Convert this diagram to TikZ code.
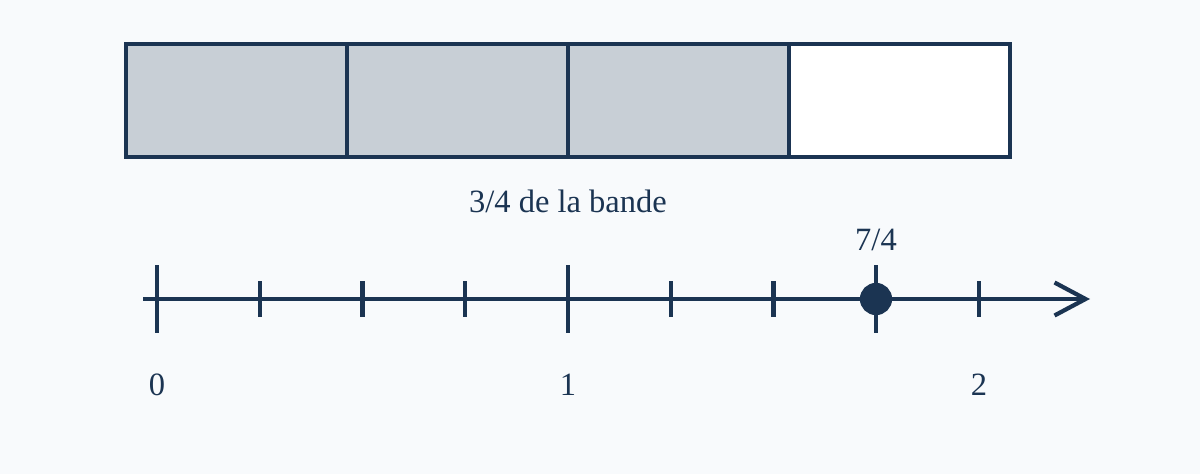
\documentclass[tikz,border=0pt]{standalone}
\usepackage{fontspec}
\setmainfont{Liberation Serif}
\usetikzlibrary{arrows.meta}
\definecolor{navy}{HTML}{1B3452}
\definecolor{bandfill}{HTML}{C8CFD6}
\definecolor{bgcol}{HTML}{F8FAFC}
\begin{document}
\begin{tikzpicture}[x=0.02cm,y=-0.02cm,line width=2.4pt,navy,font=\fontsize{18.5}{22}\selectfont]
\fill[bgcol] (0,0) rectangle (1200,474);
\useasboundingbox (0,0) rectangle (1200,474);
% bande en 4 parts
\foreach \i/\c in {0/bandfill,1/bandfill,2/bandfill,3/white}
  \filldraw[fill=\c] (126+221*\i,44) rectangle (347+221*\i,157);
\node (band) at (568,201) {3/4 de la bande};
% droite graduee
\draw[-{Straight Barb[length=0.62cm,width=0.66cm]}] (143,299) -- (1090,299);
\foreach \k in {1,2,3,5,6,8}
  \draw (157+102.75*\k,281) -- (157+102.75*\k,317);
\foreach \k in {0,4,7}
  \draw (157+102.75*\k,265) -- (157+102.75*\k,333);
\node (zero) at (157,385) {0};
\node (one) at (568,385) {1};
\node (two) at (979,385) {2};
\filldraw (876,299) circle (0.28cm);
\node (sevenq) at (876,240) {7/4};
\end{tikzpicture}
\end{document}
